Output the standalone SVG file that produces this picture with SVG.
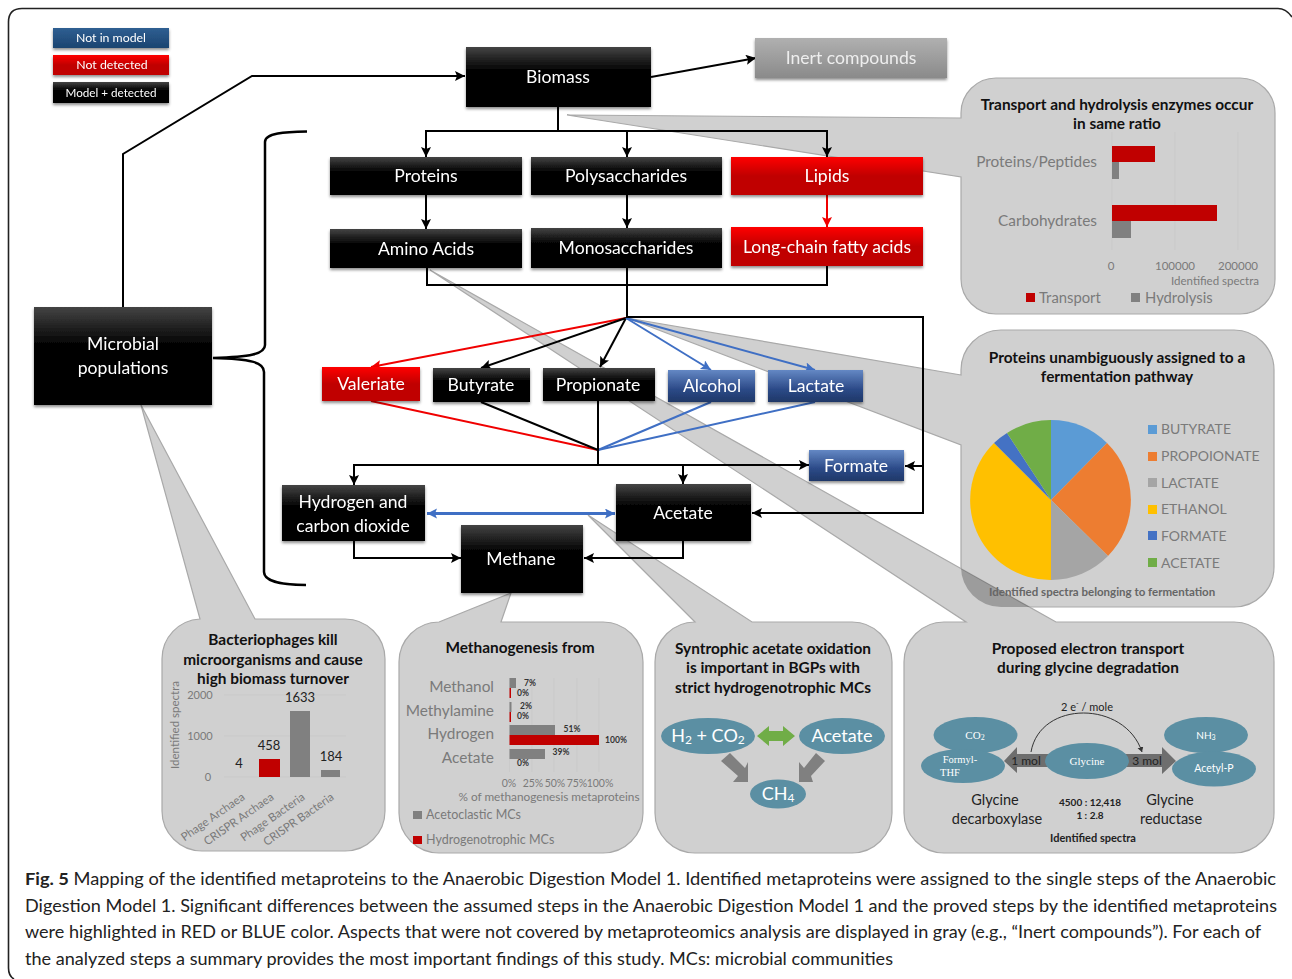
<svg xmlns="http://www.w3.org/2000/svg" width="1292" height="979" viewBox="0 0 1292 979">
<style>
text{font-family:Lato,"Liberation Sans",sans-serif}
.n{fill:#fff;font-size:17.6px;text-anchor:middle;dominant-baseline:central}
.lg{fill:#fff;font-size:12.3px;text-anchor:middle;dominant-baseline:central}
.p{fill:#d0d0d0;stroke:#a9a9a9;stroke-width:1.2}
.t{fill:#111;font-size:15.4px;font-weight:700;text-anchor:middle;dominant-baseline:central}
.g{fill:#7a7a7a;font-size:14.8px;dominant-baseline:central}
.lt{fill:#7a7a7a;font-size:14px;dominant-baseline:central}
.gs{fill:#7a7a7a;font-size:11.5px;dominant-baseline:central}
.gm{fill:#7a7a7a;font-size:12.5px;dominant-baseline:central}
.tk{fill:#7a7a7a;font-size:10.5px;text-anchor:middle;dominant-baseline:central}
.pc{fill:#333;font-size:8.5px;font-weight:700;text-anchor:middle;dominant-baseline:central}
.k{fill:#222;font-size:13px;text-anchor:middle;dominant-baseline:central}
.kb{fill:#222;font-size:14.5px;text-anchor:middle;dominant-baseline:central}
.w{fill:#fff;text-anchor:middle;dominant-baseline:central}
.s{font-family:"Liberation Serif",serif}
.l{fill:none;stroke:#000;stroke-width:2}
.r{fill:none;stroke:#f00000;stroke-width:2}
.b{fill:none;stroke:#3f6fc4;stroke-width:2}
.cap{font-size:17.4px;fill:#222}
.e{fill:#5b8fa3}
.gb{fill:#808080}
.rb{fill:#c00000}
.grid{stroke:#c8c8c8;stroke-width:.8}
</style>
<defs>
<linearGradient id="gk" x1="0" y1="0" x2="0" y2="1"><stop offset="0" stop-color="#444"/><stop offset=".4" stop-color="#000"/><stop offset="1" stop-color="#000"/></linearGradient>
<linearGradient id="gr" x1="0" y1="0" x2="0" y2="1"><stop offset="0" stop-color="#f00"/><stop offset=".5" stop-color="#c00000"/><stop offset="1" stop-color="#c00000"/></linearGradient>
<linearGradient id="gb" x1="0" y1="0" x2="0" y2="1"><stop offset="0" stop-color="#6488c4"/><stop offset=".6" stop-color="#2c4a88"/><stop offset="1" stop-color="#1f3868"/></linearGradient>
<linearGradient id="gl" x1="0" y1="0" x2="0" y2="1"><stop offset="0" stop-color="#2f5f92"/><stop offset="1" stop-color="#1b4470"/></linearGradient>
<linearGradient id="gg" x1="0" y1="0" x2="0" y2="1"><stop offset="0" stop-color="#b0b0b0"/><stop offset="1" stop-color="#8a8a8a"/></linearGradient>
<filter id="sh" x="-10%" y="-20%" width="120%" height="150%"><feDropShadow dx="0" dy="2" stdDeviation="1.5" flood-color="#000" flood-opacity=".45"/></filter>
<marker id="ak" markerUnits="userSpaceOnUse" markerWidth="12" markerHeight="12" refX="10" refY="5" orient="auto"><path d="M0,0L10,5L0,10L2,5Z" fill="#000"/></marker>
<marker id="ar" markerUnits="userSpaceOnUse" markerWidth="12" markerHeight="12" refX="10" refY="5" orient="auto"><path d="M0,0L10,5L0,10L2,5Z" fill="#f00000"/></marker>
<marker id="ab" markerUnits="userSpaceOnUse" markerWidth="12" markerHeight="12" refX="10" refY="5" orient="auto-start-reverse"><path d="M0,0L10,5L0,10L2,5Z" fill="#3f6fc4"/></marker>
<marker id="as" markerUnits="userSpaceOnUse" markerWidth="7" markerHeight="7" refX="5" refY="3" orient="auto"><path d="M0,0L5,3L0,6Z" fill="#333"/></marker>
</defs>
<rect width="1292" height="979" fill="#fff"/>
<path d="M1292,17 Q1286,8.5 1278,8.5 L22,8.5 Q8.5,8.5 8.5,22 L8.5,968 Q8.5,976 14,979" fill="none" stroke="#222" stroke-width="1.6"/>

<g id="panels">
<path id="panel-transport" class="p" d="M961,118 L567,115 L961,177 L961,279 A35,35 0 0 0 996,314 L1240,314 A35,35 0 0 0 1275,279 L1275,113 A35,35 0 0 0 1240,78 L996,78 A35,35 0 0 0 961,113 Z"/>
<path id="panel-fermentation" class="p" d="M961,375 L627,318 L961,445 L961,567 A40,40 0 0 0 1001,607 L1234,607 A40,40 0 0 0 1274,567 L1274,370 A40,40 0 0 0 1234,330 L1001,330 A40,40 0 0 0 961,370 Z"/>
<path id="panel-glycine" class="p" d="M944,622 L966,622 L430,270 L1056,622 L1234,622 A40,40 0 0 1 1274,662 L1274,813 A40,40 0 0 1 1234,853 L944,853 A40,40 0 0 1 904,813 L904,662 A40,40 0 0 1 944,622 Z"/>
<path d="M961,568.6 L1030,607 L1001,607 A40,40 0 0 1 961,567 Z" fill="#000" opacity=".25"/>
<path id="panel-syntrophic" class="p" d="M695,622 L588,515 L752,622 L852,622 A40,40 0 0 1 892,662 L892,813 A40,40 0 0 1 852,853 L695,853 A40,40 0 0 1 655,813 L655,662 A40,40 0 0 1 695,622 Z"/>
<path id="panel-methanogenesis" class="p" d="M439,622 L511,593 L501,622 L603,622 A40,40 0 0 1 643,662 L643,813 A40,40 0 0 1 603,853 L439,853 A40,40 0 0 1 399,813 L399,662 A40,40 0 0 1 439,622 Z"/>
<path id="panel-phage" class="p" d="M200,619 L141,405 L255,619 L345,619 A40,40 0 0 1 385,659 L385,811 A40,40 0 0 1 345,851 L202,851 A40,40 0 0 1 162,811 L162,659 A40,40 0 0 1 200,619 Z"/>
</g>

<g id="connectors">
<path class="l" marker-end="url(#ak)" d="M123,307V154L252,76H465"/>
<path class="l" marker-end="url(#ak)" d="M651,77L756,58"/>
<path class="l" d="M558,107V131"/>
<path class="l" marker-end="url(#ak)" d="M558,131H426V157"/>
<path class="l" marker-end="url(#ak)" d="M627,131V157"/>
<path class="l" marker-end="url(#ak)" d="M558,131H827V157"/>
<path class="l" marker-end="url(#ak)" d="M426,195V229"/>
<path class="l" marker-end="url(#ak)" d="M627,195V228"/>
<path class="r" marker-end="url(#ar)" d="M827,195V227"/>
<path class="l" d="M427,268V285H827V266"/>
<path class="l" d="M627,268V318"/>
<path class="r" marker-end="url(#ar)" d="M626,318L371,367"/>
<path class="l" marker-end="url(#ak)" d="M626,318L481,368"/>
<path class="l" marker-end="url(#ak)" d="M626,318L600,367"/>
<path class="b" marker-end="url(#ab)" d="M626,318L711,370"/>
<path class="b" marker-end="url(#ab)" d="M626,318L815,370"/>
<path class="l" marker-end="url(#ak)" d="M626,317H923V513H752"/>
<path class="l" marker-end="url(#ak)" d="M923,466H905"/>
<path class="r" d="M371,401L598,450"/>
<path class="l" d="M481,402L598,450"/>
<path class="b" d="M711,402L598,450"/>
<path class="b" d="M815,402L598,450"/>
<path class="l" d="M598,401V465"/>
<path class="l" marker-end="url(#ak)" d="M598,465H354V485"/>
<path class="l" marker-end="url(#ak)" d="M598,465H809"/>
<path class="l" marker-end="url(#ak)" d="M683,465V484"/>
<path class="b" style="stroke-width:3" marker-start="url(#ab)" marker-end="url(#ab)" d="M427,513.500H615"/>
<path class="l" marker-end="url(#ak)" d="M354,541V558H461"/>
<path class="l" marker-end="url(#ak)" d="M683,541V558H584"/>
<path class="l" style="stroke-width:2.500" d="M307,131.500C285,132 265,133 265,142V345C265,354 250,357 213,358C250,359 264,362 264,372V572C264,582 285,585 306,585"/>
</g>

<g id="legend">
<g id="legend-not-in-model" filter="url(#sh)"><rect x="53" y="28" width="116" height="20" fill="url(#gl)"/><text class="lg" x="111" y="37.500">Not in model</text></g>
<g id="legend-not-detected" filter="url(#sh)"><rect x="53" y="55" width="116" height="20" fill="url(#gr)"/><text class="lg" x="112" y="64">Not detected</text></g>
<g id="legend-model-detected" filter="url(#sh)"><rect x="53" y="82" width="116" height="21" fill="url(#gk)"/><text class="lg" x="111" y="91.500" style="font-size:11.700px">Model + detected</text></g>
</g>

<g id="biomass" filter="url(#sh)"><rect x="466" y="47" width="185" height="60" fill="url(#gk)"/><text class="n" x="558" y="76">Biomass</text></g>
<g id="inert" filter="url(#sh)"><rect x="755" y="38" width="192" height="40" fill="url(#gg)"/><text class="n" x="851" y="57" style="fill:#eee">Inert compounds</text></g>
<g id="proteins" filter="url(#sh)"><rect x="330" y="157" width="192" height="38" fill="url(#gk)"/><text class="n" x="426" y="175">Proteins</text></g>
<g id="polysaccharides" filter="url(#sh)"><rect x="531" y="157" width="191" height="38" fill="url(#gk)"/><text class="n" x="626" y="175">Polysaccharides</text></g>
<g id="lipids" filter="url(#sh)"><rect x="731" y="157" width="192" height="38" fill="url(#gr)"/><text class="n" x="827" y="175">Lipids</text></g>
<g id="amino-acids" filter="url(#sh)"><rect x="330" y="229" width="192" height="39" fill="url(#gk)"/><text class="n" x="426" y="248">Amino Acids</text></g>
<g id="monosaccharides" filter="url(#sh)"><rect x="531" y="228" width="191" height="40" fill="url(#gk)"/><text class="n" x="626" y="247">Monosaccharides</text></g>
<g id="lcfa" filter="url(#sh)"><rect x="731" y="227" width="192" height="39" fill="url(#gr)"/><text class="n" x="827" y="246">Long-chain fatty acids</text></g>
<g id="microbial" filter="url(#sh)"><rect x="34" y="307" width="178" height="98" fill="url(#gk)"/><text class="n" x="123" y="343">Microbial</text><text class="n" x="123" y="367">populations</text></g>
<g id="valeriate" filter="url(#sh)"><rect x="322" y="367" width="98" height="34" fill="url(#gr)"/><text class="n" x="371" y="383">Valeriate</text></g>
<g id="butyrate" filter="url(#sh)"><rect x="433" y="368" width="97" height="34" fill="url(#gk)"/><text class="n" x="481" y="384">Butyrate</text></g>
<g id="propionate" filter="url(#sh)"><rect x="543" y="368" width="112" height="33" fill="url(#gk)"/><text class="n" x="598" y="384">Propionate</text></g>
<g id="alcohol" filter="url(#sh)"><rect x="668" y="370" width="87" height="32" fill="url(#gb)"/><text class="n" x="712" y="385">Alcohol</text></g>
<g id="lactate" filter="url(#sh)"><rect x="768" y="370" width="95" height="32" fill="url(#gb)"/><text class="n" x="816" y="385">Lactate</text></g>
<g id="formate" filter="url(#sh)"><rect x="809" y="450" width="95" height="31" fill="url(#gb)"/><text class="n" x="856" y="465">Formate</text></g>
<g id="hydrogen" filter="url(#sh)"><rect x="282" y="485" width="143" height="56" fill="url(#gk)"/><text class="n" x="353" y="501">Hydrogen and</text><text class="n" x="353" y="525">carbon dioxide</text></g>
<g id="acetate" filter="url(#sh)"><rect x="616" y="484" width="135" height="57" fill="url(#gk)"/><text class="n" x="683" y="512">Acetate</text></g>
<g id="methane" filter="url(#sh)"><rect x="461" y="525" width="122" height="68" fill="url(#gk)"/><text class="n" x="521" y="558">Methane</text></g>

<g id="chart-transport">
<text class="t" x="1117" y="104">Transport and hydrolysis enzymes occur</text><text class="t" x="1117" y="123">in same ratio</text>
<path class="grid" d="M1112,132V250M1175,132V250M1238,132V250"/>
<rect class="rb" x="1112" y="146" width="43" height="16"/><rect class="gb" x="1112" y="162" width="7" height="17"/>
<rect class="rb" x="1112" y="205" width="105" height="16"/><rect class="gb" x="1112" y="221" width="19" height="17"/>
<text class="g" x="1097" y="161" text-anchor="end" style="font-size:15.400px">Proteins/Peptides</text><text class="g" x="1097" y="220" text-anchor="end" style="font-size:15.400px">Carbohydrates</text>
<text class="gs" x="1111" y="265" text-anchor="middle">0</text><text class="gs" x="1175" y="265" text-anchor="middle">100000</text><text class="gs" x="1238" y="265" text-anchor="middle">200000</text>
<text class="gs" x="1259" y="280" text-anchor="end">Identified spectra</text>
<rect class="rb" x="1026" y="293" width="9" height="9"/><text class="g" x="1039" y="297">Transport</text>
<rect class="gb" x="1131" y="293" width="9" height="9"/><text class="g" x="1145" y="297">Hydrolysis</text>
</g>

<g id="chart-fermentation">
<text class="t" x="1117" y="357">Proteins unambiguously assigned to a</text><text class="t" x="1117" y="376">fermentation pathway</text>
<path fill="#5b9bd5" d="M1051,500V420A80,80 0 0 1 1107,443Z"/>
<path fill="#ed7d31" d="M1051,500L1107,443A80,80 0 0 1 1108,556Z"/>
<path fill="#a5a5a5" d="M1051,500L1108,556A80,80 0 0 1 1051,580Z"/>
<path fill="#ffc000" d="M1051,500V580A80,80 0 0 1 994,443Z"/>
<path fill="#4472c4" d="M1051,500L994,443A80,80 0 0 1 1007,433Z"/>
<path fill="#70ad47" d="M1051,500L1007,433A80,80 0 0 1 1051,420Z"/>
<rect x="1148" y="425" width="9" height="9" fill="#5b9bd5"/><text class="lt" x="1161" y="428">BUTYRATE</text>
<rect x="1148" y="452" width="9" height="9" fill="#ed7d31"/><text class="lt" x="1161" y="455">PROPOIONATE</text>
<rect x="1148" y="478" width="9" height="9" fill="#a5a5a5"/><text class="lt" x="1161" y="482">LACTATE</text>
<rect x="1148" y="505" width="9" height="9" fill="#ffc000"/><text class="lt" x="1161" y="508">ETHANOL</text>
<rect x="1148" y="531" width="9" height="9" fill="#4472c4"/><text class="lt" x="1161" y="535">FORMATE</text>
<rect x="1148" y="558" width="9" height="9" fill="#70ad47"/><text class="lt" x="1161" y="562">ACETATE</text>
<text x="989" y="591" fill="#666" font-size="11.500" font-weight="700" dominant-baseline="central">Identified spectra belonging to fermentation</text>
</g>

<g id="chart-phage">
<text class="t" x="273" y="639">Bacteriophages kill</text><text class="t" x="273" y="659">microorganisms and cause</text><text class="t" x="273" y="678">high biomass turnover</text>
<text class="gs" x="0" y="0" transform="translate(174,725) rotate(-90)" text-anchor="middle">Identified spectra</text>
<path class="grid" d="M224,695H346M224,736H346M224,777H346"/>
<text class="tk" x="200" y="694" style="font-size:11px">2000</text><text class="tk" x="200" y="735" style="font-size:11px">1000</text><text class="tk" x="208" y="776" style="font-size:11px">0</text>
<rect class="rb" x="259" y="759" width="21" height="18"/><rect class="gb" x="290" y="711" width="20" height="66"/><rect class="gb" x="321" y="770" width="19" height="7"/>
<text class="k" x="239" y="763">4</text><text class="k" x="269" y="745">458</text><text class="k" x="300" y="697">1633</text><text class="k" x="331" y="756">184</text>
<text class="gs" transform="translate(243,795) rotate(-35)" text-anchor="end">Phage Archaea</text>
<text class="gs" transform="translate(272,795) rotate(-35)" text-anchor="end">CRISPR Archaea</text>
<text class="gs" transform="translate(303,795) rotate(-35)" text-anchor="end">Phage Bacteria</text>
<text class="gs" transform="translate(332,795) rotate(-35)" text-anchor="end">CRISPR Bacteria</text>
</g>

<g id="chart-methanogenesis">
<text class="t" x="520" y="647">Methanogenesis from</text>
<path class="grid" d="M509.500,678V772M532,678V772M554,678V772M577,678V772M599,678V772"/>
<rect class="gb" x="509.500" y="678" width="6.500" height="10"/><rect class="rb" x="509.500" y="688" width="1.500" height="10"/>
<rect class="gb" x="509.500" y="702" width="2" height="10"/><rect class="rb" x="509.500" y="712" width="1.500" height="10"/>
<rect class="gb" x="509.500" y="725" width="45.500" height="10"/><rect class="rb" x="509.500" y="735" width="89.500" height="10"/>
<rect class="gb" x="509.500" y="749" width="35.500" height="10"/>
<text class="g" x="494" y="686" text-anchor="end" style="font-size:15.400px">Methanol</text><text class="g" x="494" y="710" text-anchor="end" style="font-size:15.400px">Methylamine</text><text class="g" x="494" y="733" text-anchor="end" style="font-size:15.400px">Hydrogen</text><text class="g" x="494" y="757" text-anchor="end" style="font-size:15.400px">Acetate</text>
<text class="pc" x="530" y="683">7%</text><text class="pc" x="523" y="693">0%</text><text class="pc" x="526" y="706">2%</text><text class="pc" x="523" y="716">0%</text><text class="pc" x="572" y="729">51%</text><text class="pc" x="616" y="740">100%</text><text class="pc" x="561" y="752">39%</text><text class="pc" x="523" y="763">0%</text>
<text class="tk" x="509" y="783">0%</text><text class="tk" x="533" y="783">25%</text><text class="tk" x="555" y="783">50%</text><text class="tk" x="577" y="783">75%</text><text class="tk" x="600" y="783">100%</text>
<text class="gs" x="549" y="796" text-anchor="middle" style="font-size:11.800px">% of methanogenesis metaproteins</text>
<rect class="gb" x="413" y="811" width="9" height="8"/><text class="gm" x="426" y="814">Acetoclastic  MCs</text>
<rect class="rb" x="413" y="836" width="9" height="8"/><text class="gm" x="426" y="839">Hydrogenotrophic MCs</text>
</g>

<g id="chart-syntrophic">
<text class="t" x="773" y="648">Syntrophic acetate oxidation</text><text class="t" x="773" y="667">is important in BGPs with</text><text class="t" x="773" y="687">strict hydrogenotrophic MCs</text>
<ellipse class="e" cx="708" cy="736" rx="47" ry="18"/><ellipse class="e" cx="842" cy="736" rx="43" ry="18"/><ellipse class="e" cx="778" cy="794" rx="28" ry="14.500"/>
<text class="w" x="708" y="735" font-size="18">H<tspan font-size="12" dy="4">2</tspan><tspan dy="-4"> + CO</tspan><tspan font-size="12" dy="4">2</tspan></text>
<text class="w" x="842" y="735" font-size="18">Acetate</text>
<text class="w" x="778" y="793" font-size="18">CH<tspan font-size="12" dy="4">4</tspan></text>
<path fill="#70ad47" d="M757,736L769,726V731H783V726L795,736L783,746V741H769V746Z"/>
<path class="gb" d="M721,761L730,753L745,768L748,762V782H733L738,776Z"/>
<path class="gb" d="M816,753L825,761L811,776L813,782H799V762L804,768Z"/>
</g>

<g id="chart-glycine">
<text class="t" x="1088" y="648">Proposed electron transport</text><text class="t" x="1088" y="667">during glycine degradation</text>
<path fill="none" stroke="#333" stroke-width="1" marker-end="url(#as)" d="M1031,752C1040,700 1125,700 1142,752"/>
<text x="1087" y="706" font-size="11" fill="#222" text-anchor="middle" dominant-baseline="central">2 e<tspan font-size="7" dy="-3">-</tspan><tspan dy="3"> / mole</tspan></text>
<ellipse class="e" cx="975.500" cy="735" rx="42" ry="18"/><ellipse class="e" cx="963" cy="766" rx="42" ry="17"/>
<ellipse class="e" cx="1206" cy="735" rx="42" ry="18"/><ellipse class="e" cx="1214" cy="769" rx="42" ry="17.500"/>
<path fill="#6e6e6e" d="M1004,761L1017,747V754H1050V767H1017V773Z"/>
<path fill="#6e6e6e" d="M1125,754H1162V747L1176,761L1162,774V767H1125Z"/>
<ellipse class="e" cx="1087" cy="761" rx="42" ry="18"/>
<text x="1026" y="760" font-size="12" fill="#222" text-anchor="middle" dominant-baseline="central">1 mol</text>
<text x="1147" y="760" font-size="12" fill="#222" text-anchor="middle" dominant-baseline="central">3 mol</text>
<text class="w s" x="975" y="735" font-size="11">CO<tspan font-size="8" dy="2">2</tspan></text>
<text class="w s" x="960" y="759" font-size="10.500">Formyl-</text>
<text class="w s" x="950" y="772" font-size="10.500">THF</text>
<text class="w s" x="1087" y="761" font-size="11">Glycine</text>
<text class="w" x="1206" y="735" font-size="10">NH<tspan font-size="7" dy="2">3</tspan></text>
<text class="w" x="1214" y="768" font-size="10.500">Acetyl-P</text>
<text class="kb" x="995" y="799">Glycine</text><text class="kb" x="997" y="818">decarboxylase</text>
<text class="kb" x="1170" y="799">Glycine</text><text class="kb" x="1171" y="818">reductase</text>
<text x="1090" y="802" font-size="10" font-weight="700" fill="#222" text-anchor="middle" dominant-baseline="central">4500 : 12,418</text>
<text x="1090" y="815" font-size="10" font-weight="700" fill="#222" text-anchor="middle" dominant-baseline="central">1 : 2.8</text>
<text x="1093" y="837" font-size="11" font-weight="700" fill="#222" text-anchor="middle" dominant-baseline="central">Identified spectra</text>
</g>

<g id="caption">
<text class="cap" x="25" y="885" textLength="1251" lengthAdjust="spacingAndGlyphs"><tspan font-weight="700">Fig. 5</tspan> Mapping of the identified metaproteins to the Anaerobic Digestion Model 1. Identified metaproteins were assigned to the single steps of the Anaerobic</text>
<text class="cap" x="25" y="912" textLength="1252" lengthAdjust="spacingAndGlyphs">Digestion Model 1. Significant differences between the assumed steps in the Anaerobic Digestion Model 1 and the proved steps by the identified metaproteins</text>
<text class="cap" x="25" y="938" textLength="1236" lengthAdjust="spacingAndGlyphs">were highlighted in RED or BLUE color. Aspects that were not covered by metaproteomics analysis are displayed in gray (e.g., “Inert compounds”). For each of</text>
<text class="cap" x="25" y="965" textLength="868" lengthAdjust="spacingAndGlyphs">the analyzed steps a summary provides the most important findings of this study. MCs: microbial communities</text>
</g>
</svg>
